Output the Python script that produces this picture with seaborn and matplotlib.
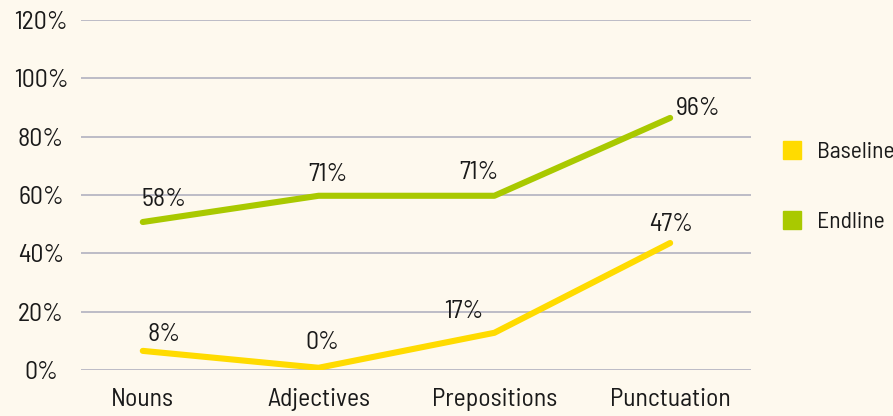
import pandas as pd
import matplotlib.pyplot as plt
import seaborn as sns
from matplotlib.lines import Line2D

# ---------- Data ----------

categories = ["Nouns", "Adjectives", "Prepositions", "Punctuation"]
baseline = [6.5, 0.7, 12.7, 43.5]
endline = [50.7, 59.7, 59.7, 86.4]
baseline_labels = ["8%", "0%", "17%", "47%"]
endline_labels = ["58%", "71%", "71%", "96%"]

df = pd.DataFrame({
    "category": categories * 2,
    "value": baseline + endline,
    "series": ["Baseline"] * 4 + ["Endline"] * 4,
})

colors = {"Baseline": "#FFDB00", "Endline": "#A9C900"}
bg = "#FEF9EE"
txt = "#1a1a1a"

# label nudges (points) so the text sits like the original
end_off = [(15, 16), (7, 15), (-11, 17), (20, 7)]
base_off = [(15, 12), (3, 18), (-22, 15), (1, 13)]

# ---------- Plot ----------

sns.set_style("white")
plt.rcParams["font.family"] = ["Barlow Semi Condensed", "DejaVu Sans"]

fig = plt.figure(figsize=(8.93, 4.16), dpi=100, facecolor=bg)
ax = fig.add_axes([0.091, 0.111, 0.75, 0.841])
ax.set_facecolor(bg)

sns.lineplot(data=df, x="category", y="value", hue="series", palette=colors,
             linewidth=4.4, sort=False, legend=False, ax=ax, zorder=3)

for i, (v, lab) in enumerate(zip(endline, endline_labels)):
    ax.annotate(lab, (i, v), xytext=end_off[i], textcoords="offset points",
                ha="center", va="center", fontsize=18.5, color=txt)
for i, (v, lab) in enumerate(zip(baseline, baseline_labels)):
    ax.annotate(lab, (i, v), xytext=base_off[i], textcoords="offset points",
                ha="center", va="center", fontsize=18.5, color=txt)

ax.set_ylim(0, 120)
ax.set_xlim(-0.35, 3.46)
ax.set_yticks(range(0, 121, 20))
ax.set_yticklabels([f"{t}%" for t in range(0, 121, 20)])
ax.grid(axis="y", color="#BDBCC6", linewidth=1.4)
ax.grid(axis="x", visible=False)
for s in ax.spines.values():
    s.set_visible(False)
ax.tick_params(axis="both", length=0, labelsize=18.5, colors=txt)
ax.tick_params(axis="y", pad=29)
ax.tick_params(axis="x", pad=13)
for t in ax.get_yticklabels():
    t.set_ha("center")
ax.set_xlabel("")
ax.set_ylabel("")

handles = [Line2D([], [], marker="s", linestyle="none", markersize=13,
                  color=colors[k], label=k) for k in ["Baseline", "Endline"]]
fig.legend(handles=handles, loc="center left", bbox_to_anchor=(0.85, 0.55),
           frameon=False, fontsize=17, labelspacing=2.05, handletextpad=0.55,
           handlelength=1.0, labelcolor=txt)

fig.savefig("out.png", dpi=100, facecolor=bg)
